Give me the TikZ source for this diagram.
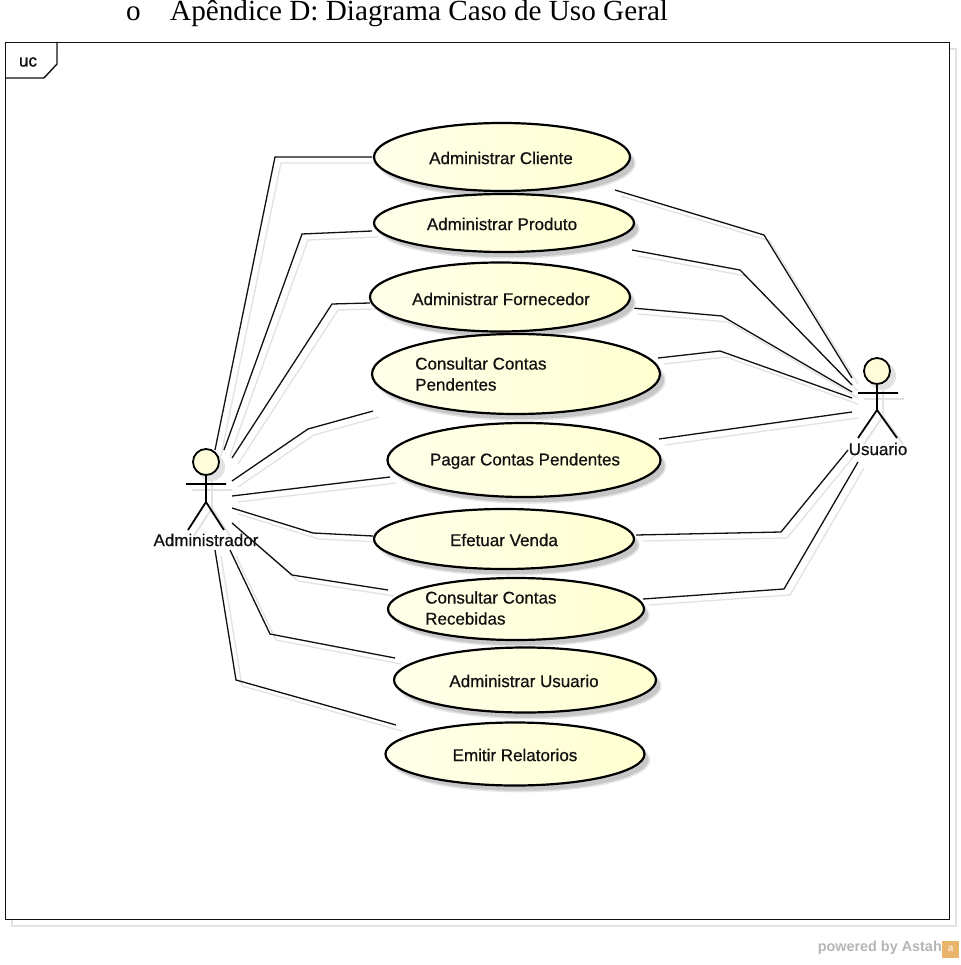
\documentclass[tikz,border=0pt]{standalone}
\usepackage{fontspec}
\setmainfont{Liberation Serif}
\setsansfont{Liberation Sans}
\newfontfamily\ucfont[FakeBold=0.7]{Liberation Sans}
\newfontfamily\ucheavy[FakeBold=1.5]{Liberation Sans}
\definecolor{shadowgray}{HTML}{E2E2E2}
\definecolor{inkblack}{HTML}{111111}
\definecolor{poweredgray}{HTML}{B5B5B5}
\definecolor{astahorange}{HTML}{E8B56A}
\tikzset{
  uclabel/.style={font=\ucfont\fontsize{17}{19}\selectfont,text=inkblack,inner sep=0pt,align=left},
  usecase/.style={ellipse,draw=black,line width=2.2pt,left color=white!92!yellow,right color=yellow!18,inner sep=0pt},
  usedrop/.style={ellipse,fill=black!22,inner sep=0pt,draw=black!10,line width=1.5pt},
  connline/.style={draw=inkblack,line width=1.3pt},
  dropline/.style={draw=shadowgray,line width=1.3pt,transform canvas={xshift=6pt,yshift=-6pt}},
  actorline/.style={draw=black,line width=1.8pt},
  actordrop/.style={draw=shadowgray,line width=1.8pt,transform canvas={xshift=6pt,yshift=-6pt}},
}
\newcommand{\conn}[1]{\draw[dropline] #1; \draw[connline] #1;}
\newcommand{\ucase}[5]{%
  \node[usedrop,minimum width=#3pt,minimum height=#4pt] at ([shift={(5,6)}]#2) {};
  \node[usecase,minimum width=#3pt,minimum height=#4pt] (#1) at (#2) {};}
\usetikzlibrary{shapes.geometric}
\begin{document}
\begin{tikzpicture}[x=1pt,y=-1pt]
\useasboundingbox (0,0) rectangle (960,965);
% title
\node[inner sep=0pt,anchor=base west,font=\fontsize{29.2}{32}\selectfont,text=black] (bullet) at (126,20.5) {o};
\node[inner sep=0pt,anchor=base west,font=\fontsize{29.2}{32}\selectfont,text=black] (title) at (170,20.5) {Apêndice D: Diagrama Caso de Uso Geral};
% frame
\draw[draw=shadowgray,line width=1.2pt] (12,49) rectangle (956,926);
\node[draw=inkblack,line width=1.4pt,fill=white,anchor=north west,minimum width=944pt,minimum height=877pt,inner sep=0pt] (frame) at (5,42) {};
\draw[draw=inkblack,line width=1.4pt] (5,78) -- (44,78) -- (57,64) -- (57,42);
\node[font=\ucheavy\fontsize{17}{18}\selectfont,text=inkblack,inner sep=0pt] (uc) at (28,62) {uc};
% connector ends
\coordinate (a1) at (215,450); \coordinate (c1) at (372,157);
\coordinate (a2) at (224,450); \coordinate (c2) at (372,231);
\coordinate (a3) at (232,458); \coordinate (c3) at (370,303);
\coordinate (a4) at (232,481); \coordinate (c4) at (373,411);
\coordinate (a5) at (232,496); \coordinate (c5) at (390,477);
\coordinate (a6) at (232,508); \coordinate (c6) at (373,536);
\coordinate (a7) at (232,523); \coordinate (c7) at (388,590);
\coordinate (a8) at (230,550); \coordinate (c8) at (395,658);
\coordinate (a9) at (215,550); \coordinate (c9) at (396,725);
\coordinate (u1) at (852,378); \coordinate (d1) at (615,190);
\coordinate (u2) at (852,385); \coordinate (d2) at (632,250);
\coordinate (u3) at (852,392); \coordinate (d3) at (632,308);
\coordinate (u4) at (852,398); \coordinate (d4) at (658,358);
\coordinate (u5) at (852,412); \coordinate (d5) at (659,439);
\coordinate (u6) at (848,450); \coordinate (d6) at (636,535);
\coordinate (u7) at (858,462); \coordinate (d7) at (643,599);
% connectors
\conn{(a1) -- (275,157) -- (c1)}
\conn{(a2) -- (302,234) -- (c2)}
\conn{(a3) -- (332,304) -- (c3)}
\conn{(a4) -- (308,429) -- (c4)}
\conn{(a5) -- (c5)}
\conn{(a6) -- (313,533) -- (c6)}
\conn{(a7) -- (292,575) -- (c7)}
\conn{(a8) -- (270,634) -- (c8)}
\conn{(a9) -- (236,680) -- (c9)}
\conn{(d1) -- (764,235) -- (u1)}
\conn{(d2) -- (740,270) -- (u2)}
\conn{(d3) -- (722,316) -- (u3)}
\conn{(d4) -- (720,351) -- (u4)}
\conn{(d5) -- (u5)}
\conn{(d6) -- (781,532) -- (u6)}
\conn{(d7) -- (784,589) -- (u7)}
% use cases
\ucase{e1}{502,157}{256}{68}{}
\ucase{e2}{504,223}{260}{58}{}
\ucase{e3}{500,297}{260}{69}{}
\ucase{e4}{516,374}{288}{80}{}
\ucase{e5}{524,460}{273}{74}{}
\ucase{e6}{504,539}{260}{60}{}
\ucase{e7}{516,609}{256}{62}{}
\ucase{e8}{525,680}{262}{65}{}
\ucase{e9}{515,754}{259}{63}{}
\node[uclabel] (t1) at (501,158) {Administrar Cliente};
\node[uclabel] (t2) at (502,224) {Administrar Produto};
\node[uclabel] (t3) at (501,299) {Administrar Fornecedor};
\node[uclabel,anchor=west] (t4) at (415,374) {Consultar Contas\\[2pt]Pendentes};
\node[uclabel] (t5) at (525,461) {Pagar Contas Pendentes};
\node[uclabel] (t6) at (504,540) {Efetuar Venda};
\node[uclabel,anchor=west] (t7) at (425,608) {Consultar Contas\\[2pt]Recebidas};
\node[uclabel] (t8) at (524,681) {Administrar Usuario};
\node[uclabel] (t9) at (515,755) {Emitir Relatorios};
% actor Administrador
\fill[shadowgray] (211,467) circle (14);
\draw[actordrop] (186,484) -- (226,484) (206,475) -- (206,502) -- (188,530) (206,502) -- (224,530);
\draw[actorline,fill=yellow!15] (206,462) circle (13);
\draw[actorline] (186,484) -- (226,484) (206,475) -- (206,502) -- (188,530) (206,502) -- (224,530);
\node[uclabel] (admin) at (206,540) {Administrador};
% actor Usuario
\fill[shadowgray] (882,376) circle (14);
\draw[actordrop] (858,393) -- (898,393) (877,384) -- (877,410) -- (858,438) (877,410) -- (897,438);
\draw[actorline,fill=yellow!15] (877,371) circle (13);
\draw[actorline] (858,393) -- (898,393) (877,384) -- (877,410) -- (858,438) (877,410) -- (897,438);
\node[uclabel] (usuario) at (878,449) {Usuario};
% watermark
\node[font=\sffamily\bfseries\fontsize{14.4}{18}\selectfont,text=poweredgray,inner sep=0pt,anchor=east] (powered) at (942,948) {powered by Astah};
\node[fill=astahorange,minimum size=17pt,inner sep=0pt,font=\sffamily\fontsize{10}{10}\selectfont,text=white,anchor=west] (logo) at (942,949) {a};
\end{tikzpicture}
\end{document}
